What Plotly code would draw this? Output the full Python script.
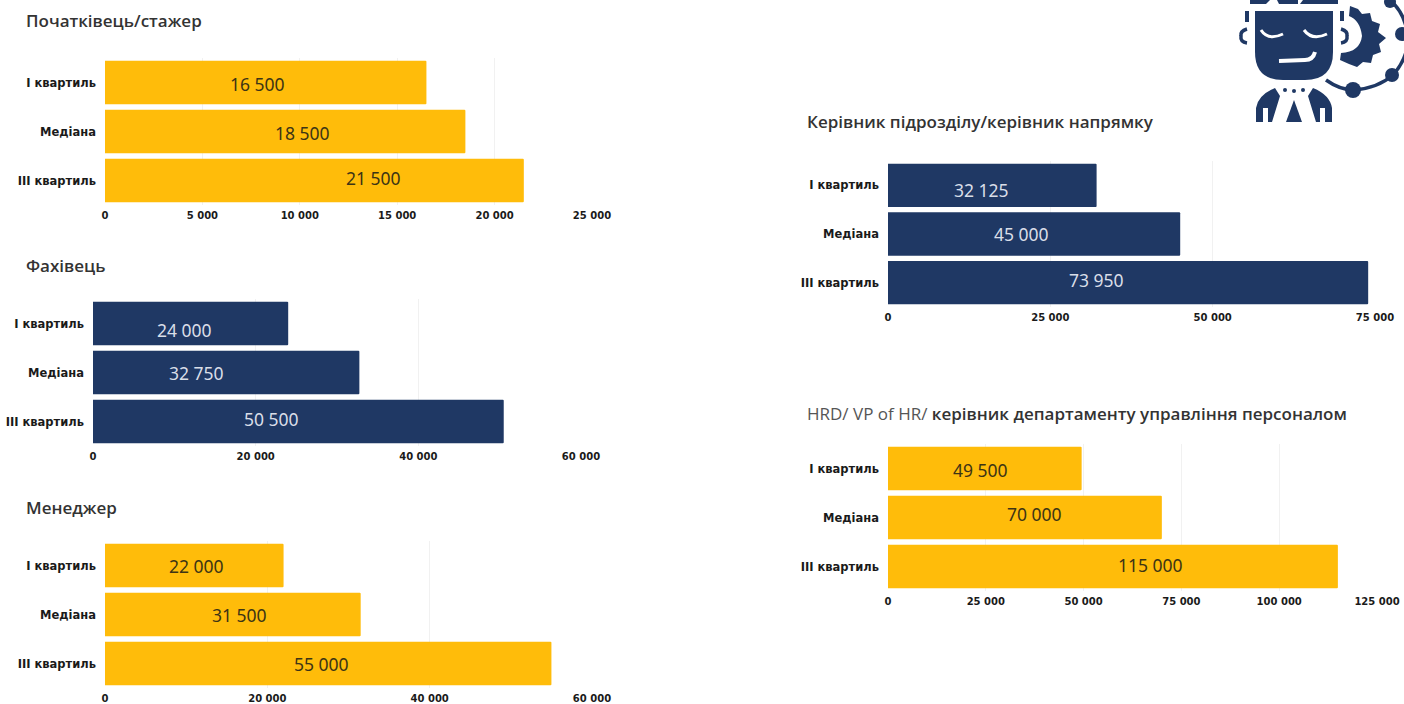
import plotly.graph_objects as go

W, H = 1404, 704
CATEGORIES = ["I квартиль", "Медіана", "III квартиль"]

TITLES = [
    "Початківець/стажер",
    "Фахівець",
    "Менеджер",
    "Керівник підрозділу/керівник напрямку",
    "<span style='font-weight:400;color:#555'>HRD/ VP of HR/</span> керівник департаменту управління персоналом",
]
VALUES_JUNIOR = [16500, 18500, 21500]
VALUES_SPECIALIST = [24000, 32750, 50500]
VALUES_MANAGER = [22000, 31500, 55000]
VALUES_HEAD = [32125, 45000, 73950]
VALUES_HRD = [49500, 70000, 115000]
TICKS_JUNIOR = [0, 5000, 10000, 15000, 20000, 25000]
TICKS_60K = [0, 20000, 40000, 60000]
TICKS_HEAD = [0, 25000, 50000, 75000]
TICKS_HRD = [0, 25000, 50000, 75000, 100000, 125000]

YELLOW, NAVY = "#FFBC0A", "#1F3864"
DARK_LABEL, LIGHT_LABEL = "#3D3415", "#D9DEE8"

# layout: plot box in pixels, title position, colours, label nudges in pixels
PANELS = [
    dict(vals=VALUES_JUNIOR, ticks=TICKS_JUNIOR, box=(105, 592, 58, 205), title=(25, 20), col=YELLOW, lab=DARK_LABEL,
         dx=[-8, 17, 59], dy=[1, 1, -3]),
    dict(vals=VALUES_SPECIALIST, ticks=TICKS_60K, box=(93, 581, 299, 446), title=(25, 265), col=NAVY, lab=LIGHT_LABEL,
         dx=[-6, -30, -27], dy=[6, 0, -3]),
    dict(vals=VALUES_MANAGER, ticks=TICKS_60K, box=(105, 592, 541, 688), title=(25, 507), col=YELLOW, lab=DARK_LABEL,
         dx=[2, 7, -7], dy=[0, 0, 0]),
    dict(vals=VALUES_HEAD, ticks=TICKS_HEAD, box=(888, 1375, 161, 307), title=(806, 121), col=NAVY, lab=LIGHT_LABEL,
         dx=[-11, -13, -32], dy=[5, 0, -3]),
    dict(vals=VALUES_HRD, ticks=TICKS_HRD, box=(888, 1377, 444, 591), title=(806, 413), col=YELLOW, lab=DARK_LABEL,
         dx=[-4, 10, 38], dy=[1, -4, -2]),
]

TICK_FONT = "DejaVu Sans"
TITLE_FONT = "Open Sans"
fig = go.Figure()
annotations = []


def fmt(v):
    return f"{v:,}".replace(",", " ")


for i, p in enumerate(PANELS, start=1):
    x0, x1, y0, y1 = p["box"]
    xa, ya = f"x{i}", f"y{i}"
    fig.add_trace(go.Bar(
        y=CATEGORIES, x=p["vals"], orientation="h", xaxis=xa, yaxis=ya, width=0.89,
        marker=dict(color=p["col"], line=dict(width=0), cornerradius=1),
        showlegend=False, hoverinfo="x+y",
    ))
    fig.update_layout({
        f"xaxis{i}": dict(
            domain=[x0 / W, x1 / W], anchor=ya, range=[0, p["ticks"][-1]], tickvals=p["ticks"],
            ticktext=[fmt(t) for t in p["ticks"]], ticks="", ticklabelstandoff=3, automargin=False,
            showgrid=True, gridcolor="#F1F1F1", gridwidth=1, zeroline=False, showline=False,
            tickfont=dict(family=TICK_FONT, size=10, color="#1a1a1a", weight=700),
        ),
        f"yaxis{i}": dict(
            domain=[1 - y1 / H, 1 - y0 / H], anchor=xa, autorange="reversed", type="category",
            ticks="", ticklabelstandoff=8, showgrid=False, zeroline=False, showline=False, automargin=False,
            tickfont=dict(family=TICK_FONT, size=11.5, color="#1a1a1a", weight=700),
        ),
    })
    for c, v, dx, dy in zip(CATEGORIES, p["vals"], p["dx"], p["dy"]):
        annotations.append(dict(
            x=v / 2, y=c, xref=xa, yref=ya, text=fmt(v), showarrow=False, xshift=dx, yshift=-dy,
            font=dict(family="Noto Sans", size=17.5, color=p["lab"]),
        ))
    tx, ty = p["title"]
    annotations.append(dict(
        x=tx / W, y=1 - ty / H, xref="paper", yref="paper", xanchor="left", yanchor="middle",
        text=TITLES[i - 1], showarrow=False, xshift=-1,
        font=dict(family=TITLE_FONT, size=17, color="#333333", weight=600),
    ))

# decorative logo, drawn in a full-page pixel coordinate overlay
fig.add_trace(go.Scatter(x=[None], y=[None], xaxis="x6", yaxis="y6", showlegend=False, hoverinfo="skip"))
fig.update_layout(
    xaxis6=dict(domain=[0, 1], range=[0, W], visible=False, anchor="y6", fixedrange=True, automargin=False),
    yaxis6=dict(domain=[0, 1], range=[H, 0], visible=False, anchor="x6", fixedrange=True, automargin=False),
)


def path(d, fill=NAVY, line=None, width=0):
    return dict(type="path", path=d, xref="x6", yref="y6", fillcolor=fill, layer="above",
                line=dict(color=line or fill, width=width))


def node(cx, cy, r):
    return dict(type="circle", x0=cx - r, x1=cx + r, y0=cy - r, y1=cy + r, xref="x6", yref="y6",
                fillcolor=NAVY, line=dict(width=0), layer="above")


def stroke(d, color=NAVY, width=3):
    return dict(type="path", path=d, xref="x6", yref="y6", line=dict(color=color, width=width),
                fillcolor="rgba(0,0,0,0)", layer="above")


WHITE = "#FFFFFF"
shapes = [
    path("M1250,0 L1270,0 L1266,4 L1250,4 Z M1277,0 L1298,0 L1298,4 L1279,4 Z M1303,0 L1338,0 L1338,4 L1300,4 Z"),
    path("M1255,11 L1333,11 L1333,52 Q1333,80 1305,80 L1283,80 Q1255,80 1255,52 Z"),
    path("M1245,11 L1249,11 L1249,22 L1245,22 Z M1340,11 L1344,11 L1344,21 L1340,21 Z"),
    stroke("M1247,29 Q1240,31 1241,36 Q1240,42 1247,43", width=3.5),
    stroke("M1341,29 Q1348,31 1347,36 Q1348,42 1341,43", width=3.5),
    stroke("M1261,30 Q1268,41 1283,34", color=WHITE, width=3),
    stroke("M1304,30 Q1312,41 1327,34", color=WHITE, width=3),
    stroke("M1279,61 L1305,60 Q1313,60 1315,52", color=WHITE, width=4),
    # body
    path("M1256,122 L1256,108 Q1258,95 1275,88 L1280,96 L1272,122 L1268,122 L1268,108 L1263,108 L1263,122 Z"),
    path("M1332,122 L1332,108 Q1330,95 1313,88 L1308,96 L1316,122 L1320,122 L1320,108 L1325,108 L1325,122 Z"),
    path("M1294,100 L1302,122 L1286,122 Z"),
    node(1285, 90, 2), node(1294, 91, 2), node(1303, 90, 2),
    # gear
    path("M1350,6 L1358,9 L1362,14 L1370,13 L1372,21 L1380,24 L1378,32 L1386,38 L1379,44 L1381,52 L1373,55 "
         "L1371,63 L1363,62 L1357,67 L1349,64 L1340,60 L1341,53 Q1360,52 1362,36 Q1360,20 1349,16 Z"),
    # orbit with nodes
    stroke("M1326,80 Q1340,90 1354,90 Q1378,88 1393,75 Q1408,58 1408,38 Q1406,14 1390,0", width=3.5),
    node(1353, 90, 8), node(1392, 75, 7), node(1402, 34, 7), node(1390, 2, 6),
]

fig.update_layout(
    width=W, height=H, margin=dict(l=0, r=0, t=0, b=0), paper_bgcolor="white", plot_bgcolor="rgba(0,0,0,0)",
    annotations=annotations, shapes=shapes, bargap=0.11,
    font=dict(family=TICK_FONT),
)
fig.write_html("out.html", config=dict(displayModeBar=False),
               post_script="document.body.style.margin='0';")
